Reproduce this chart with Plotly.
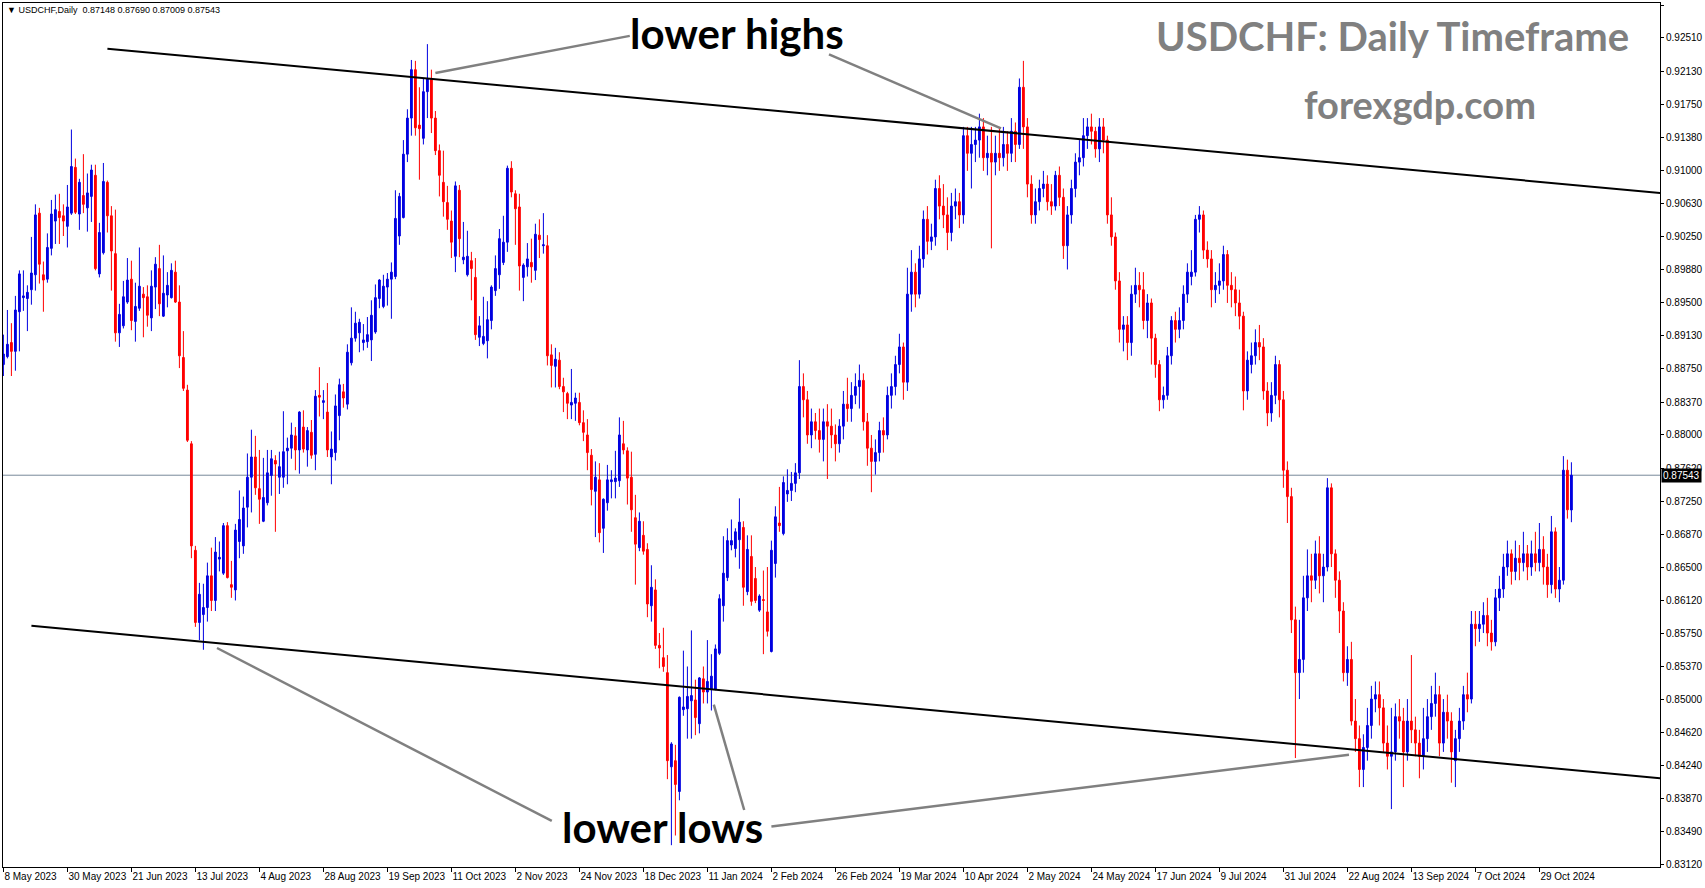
import pandas as pd
import plotly.graph_objects as go

# ---------------- data (USDCHF daily, one line per trading week) ----------------
opens = [
    0.8880, 0.8889, 0.8905, 0.8895, 0.8940,
    0.8956, 0.8955, 0.8965, 0.8982, 0.9052,
    0.8982, 0.8977, 0.9012, 0.9043, 0.9054,
    0.9049, 0.9037, 0.9052, 0.9104, 0.9051,
    0.9072, 0.9058, 0.9071, 0.9095, 0.8983,
    0.9007, 0.9087, 0.9049, 0.9006, 0.8916,
    0.8924, 0.8951, 0.8977, 0.8929, 0.8944,
    0.8960, 0.8957, 0.8933, 0.8968, 0.8989,
    0.8935, 0.8959, 0.8956, 0.8985, 0.8951,
    0.8888, 0.8851, 0.8790, 0.8669, 0.8587,
    0.8596, 0.8604, 0.8640, 0.8612, 0.8659,
    0.8643, 0.8697, 0.8630, 0.8624, 0.8679,
    0.8674, 0.8718, 0.8752, 0.8775, 0.8739,
    0.8702, 0.8723, 0.8754, 0.8771, 0.8752,
    0.8752, 0.8782, 0.8785, 0.8799, 0.8783,
    0.8809, 0.8783, 0.8803, 0.8778, 0.8845,
    0.8837, 0.8826, 0.8775, 0.8780, 0.8822,
    0.8849, 0.8835, 0.8882, 0.8910, 0.8916,
    0.8905, 0.8906, 0.8908, 0.8917, 0.8955,
    0.8946, 0.8968, 0.8977, 0.8980, 0.9026,
    0.9047, 0.9119, 0.9160, 0.9215, 0.9152,
    0.9137, 0.9190, 0.9205, 0.9160, 0.9123,
    0.9087, 0.9064, 0.9043, 0.9003, 0.9078,
    0.8999, 0.8982, 0.8998, 0.8979, 0.8911,
    0.8904, 0.8907, 0.8930, 0.8964, 0.8982,
    0.8996, 0.9019, 0.9103, 0.9074, 0.9059,
    0.8979, 0.8991, 0.8996, 0.8987, 0.9027,
    0.9015, 0.9015, 0.8891, 0.8878, 0.8885,
    0.8855, 0.8847, 0.8834, 0.8836, 0.8837,
    0.8814, 0.8800, 0.8777, 0.8736, 0.8749,
    0.8694, 0.8723, 0.8747, 0.8747, 0.8748,
    0.8790, 0.8782, 0.8752, 0.8706, 0.8672,
    0.8686, 0.8670, 0.8606, 0.8624, 0.8561,
    0.8547, 0.8530, 0.8423, 0.8430,
    0.8395, 0.8488, 0.8489, 0.8498,
    0.8499, 0.8472, 0.8523, 0.8508, 0.8511,
    0.8511, 0.8552, 0.8606, 0.8638, 0.8675,
    0.8671, 0.8681, 0.8695, 0.8622, 0.8662,
    0.8637, 0.8601, 0.8613, 0.8599, 0.8554,
    0.8654, 0.8700, 0.8688, 0.8733, 0.8737,
    0.8745, 0.8757, 0.8855, 0.8840, 0.8800,
    0.8815, 0.8805, 0.8795, 0.8815, 0.8810,
    0.8800, 0.8790, 0.8810, 0.8835, 0.8830,
    0.8845, 0.8855, 0.8862, 0.8815, 0.8785,
    0.8770, 0.8780, 0.8805, 0.8800, 0.8845,
    0.8855, 0.8880, 0.8900, 0.8860, 0.8960,
    0.8985, 0.8960, 0.9000, 0.9045, 0.9020,
    0.9025, 0.9080, 0.9060, 0.9050, 0.9030,
    0.9060, 0.9065, 0.9050, 0.9140, 0.9120,
    0.9130, 0.9135, 0.9150, 0.9115, 0.9120,
    0.9110, 0.9120, 0.9115, 0.9130, 0.9120,
    0.9145, 0.9130, 0.9195, 0.9150, 0.9085,
    0.9050, 0.9065, 0.9080, 0.9085, 0.9065,
    0.9060, 0.9095, 0.9070, 0.9015, 0.9050,
    0.9080, 0.9110, 0.9115, 0.9140, 0.9150,
    0.9145, 0.9125, 0.9150, 0.9135, 0.9050,
    0.9025, 0.8975, 0.8920, 0.8925, 0.8905,
    0.8960, 0.8970, 0.8965, 0.8930, 0.8950,
    0.8910, 0.8880, 0.8840, 0.8845, 0.8890,
    0.8930, 0.8920, 0.8930, 0.8960, 0.8980,
    0.8985, 0.9045, 0.9050, 0.9010, 0.9000,
    0.8965, 0.8970, 0.8975, 0.9005, 0.8970,
    0.8965, 0.8950, 0.8935, 0.8850, 0.8880,
    0.8890, 0.8905, 0.8900, 0.8850, 0.8825,
    0.8845, 0.8880, 0.8840, 0.8760, 0.8730,
    0.8590, 0.8530, 0.8545, 0.8615, 0.8640,
    0.8635, 0.8665, 0.8640, 0.8650, 0.8740,
    0.8665, 0.8635, 0.8600, 0.8530, 0.8545,
    0.8475, 0.8455, 0.8420, 0.8445, 0.8470,
    0.8500, 0.8505, 0.8490, 0.8450, 0.8435,
    0.8440, 0.8480, 0.8475, 0.8440, 0.8475,
    0.8465, 0.8450, 0.8435, 0.8455, 0.8480,
    0.8495, 0.8505, 0.8450, 0.8485, 0.8475,
    0.8430, 0.8455, 0.8475, 0.8505, 0.8500,
    0.8585, 0.8580, 0.8585, 0.8595, 0.8575,
    0.8565, 0.8615, 0.8625, 0.8650, 0.8665,
    0.8645, 0.8660, 0.8655, 0.8665, 0.8650,
    0.8665, 0.8655, 0.8670, 0.8650, 0.8630,
    0.8690, 0.8625, 0.8635, 0.8760, 0.87148,
]
highs = [
    0.8914, 0.8942, 0.8927, 0.8958, 0.8987,
    0.8987, 0.8970, 0.9025, 0.9062, 0.9058,
    0.8997, 0.9029, 0.9067, 0.9073, 0.9074,
    0.9062, 0.9084, 0.9147, 0.9114, 0.9091,
    0.9119, 0.9097, 0.9107, 0.9107, 0.9041,
    0.9109, 0.9089, 0.9060, 0.9056, 0.8949,
    0.8975, 0.9001, 0.8998, 0.8973, 0.9013,
    0.8968, 0.8970, 0.8987, 0.9002, 0.9016,
    0.9004, 0.8985, 0.8995, 0.8998, 0.8970,
    0.8918, 0.8857, 0.8793, 0.8674, 0.8632,
    0.8631, 0.8655, 0.8672, 0.8684, 0.8679,
    0.8700, 0.8701, 0.8657, 0.8699, 0.8737,
    0.8730, 0.8779, 0.8806, 0.8799, 0.8783,
    0.8774, 0.8783, 0.8783, 0.8777, 0.8781,
    0.8827, 0.8797, 0.8814, 0.8809, 0.8827,
    0.8828, 0.8809, 0.8817, 0.8851, 0.8877,
    0.8851, 0.8859, 0.8804, 0.8846, 0.8864,
    0.8858, 0.8903, 0.8945, 0.8940, 0.8932,
    0.8926, 0.8934, 0.8953, 0.8971, 0.8977,
    0.8982, 0.8984, 0.8996, 0.9078, 0.9075,
    0.9135, 0.9170, 0.9226, 0.9225, 0.9195,
    0.9205, 0.9244, 0.9215, 0.9168, 0.9130,
    0.9123, 0.9083, 0.9055, 0.9088, 0.9084,
    0.9042, 0.9032, 0.9008, 0.9001, 0.8935,
    0.8957, 0.8952, 0.8970, 0.9004, 0.9034,
    0.9049, 0.9106, 0.9111, 0.9078, 0.9074,
    0.8995, 0.9018, 0.9023, 0.9040, 0.9045,
    0.9052, 0.9027, 0.8903, 0.8899, 0.8894,
    0.8865, 0.8849, 0.8875, 0.8848, 0.8848,
    0.8828, 0.8818, 0.8784, 0.8770, 0.8768,
    0.8728, 0.8766, 0.8760, 0.8782, 0.8820,
    0.8816, 0.8786, 0.8781, 0.8732, 0.8712,
    0.8702, 0.8677, 0.8652, 0.8636, 0.8575,
    0.8581, 0.8550, 0.8451, 0.8448,
    0.8503, 0.8555, 0.8537, 0.8578,
    0.8522, 0.8525, 0.8537, 0.8567, 0.8551,
    0.8562, 0.8619, 0.8685, 0.8694, 0.8704,
    0.8694, 0.8728, 0.8702, 0.8686, 0.8686,
    0.8650, 0.8619, 0.8646, 0.8650, 0.8680,
    0.8719, 0.8741, 0.8753, 0.8761, 0.8758,
    0.8768, 0.8885, 0.8870, 0.8850, 0.8830,
    0.8825, 0.8830, 0.8830, 0.8835, 0.8830,
    0.8812, 0.8818, 0.8850, 0.8865, 0.8860,
    0.8870, 0.8880, 0.8870, 0.8825, 0.8800,
    0.8795, 0.8815, 0.8820, 0.8855, 0.8870,
    0.8890, 0.8915, 0.8905, 0.8990, 0.9010,
    0.8995, 0.9015, 0.9055, 0.9060, 0.9040,
    0.9090, 0.9095, 0.9085, 0.9070, 0.9075,
    0.9080, 0.9075, 0.9150, 0.9150, 0.9150,
    0.9150, 0.9165, 0.9160, 0.9140, 0.9150,
    0.9140, 0.9150, 0.9150, 0.9145, 0.9160,
    0.9155, 0.9205, 0.9225, 0.9160, 0.9095,
    0.9080, 0.9090, 0.9100, 0.9095, 0.9085,
    0.9100, 0.9105, 0.9080, 0.9060, 0.9090,
    0.9120, 0.9135, 0.9160, 0.9160, 0.9165,
    0.9150, 0.9160, 0.9160, 0.9140, 0.9070,
    0.9030, 0.8985, 0.8935, 0.8935, 0.8970,
    0.8990, 0.8985, 0.8985, 0.8960, 0.8955,
    0.8915, 0.8885, 0.8855, 0.8900, 0.8935,
    0.8940, 0.8945, 0.8970, 0.8995, 0.9010,
    0.9050, 0.9060, 0.9055, 0.9020, 0.9010,
    0.8985, 0.8995, 0.9015, 0.9010, 0.8985,
    0.8980, 0.8965, 0.8940, 0.8895, 0.8905,
    0.8920, 0.8925, 0.8910, 0.8860, 0.8860,
    0.8890, 0.8885, 0.8850, 0.8770, 0.8740,
    0.8605, 0.8590, 0.8640, 0.8670, 0.8665,
    0.8680, 0.8685, 0.8665, 0.8751, 0.8745,
    0.8670, 0.8645, 0.8610, 0.8560, 0.8565,
    0.8500, 0.8470, 0.8460, 0.8490, 0.8515,
    0.8520, 0.8520, 0.8500, 0.8470, 0.8490,
    0.8495, 0.8500, 0.8490, 0.8500, 0.8550,
    0.8480, 0.8465, 0.8490, 0.8500, 0.8515,
    0.8530, 0.8515, 0.8500, 0.8505, 0.8485,
    0.8465, 0.8490, 0.8515, 0.8530, 0.8600,
    0.8600, 0.8600, 0.8610, 0.8615, 0.8590,
    0.8625, 0.8640, 0.8665, 0.8680, 0.8670,
    0.8680, 0.8675, 0.8690, 0.8675, 0.8680,
    0.8690, 0.8700, 0.8685, 0.8665, 0.8708,
    0.8695, 0.8650, 0.8776, 0.8772, 0.87690,
]
lows = [
    0.8867, 0.8887, 0.8867, 0.8873, 0.8895,
    0.8941, 0.8918, 0.8948, 0.8964, 0.8972,
    0.8940, 0.8973, 0.9004, 0.9017, 0.9017,
    0.9026, 0.9013, 0.9050, 0.9051, 0.9033,
    0.9052, 0.9031, 0.9042, 0.8987, 0.8979,
    0.9005, 0.9030, 0.8964, 0.8906, 0.8900,
    0.8921, 0.8949, 0.8919, 0.8906, 0.8941,
    0.8911, 0.8923, 0.8918, 0.8943, 0.8935,
    0.8934, 0.8945, 0.8955, 0.8950, 0.8876,
    0.8850, 0.8792, 0.8660, 0.8582, 0.8567,
    0.8556, 0.8588, 0.8600, 0.8600, 0.8645,
    0.8641, 0.8637, 0.8615, 0.8612, 0.8660,
    0.8665, 0.8695, 0.8712, 0.8732, 0.8699,
    0.8701, 0.8720, 0.8731, 0.8690, 0.8733,
    0.8740, 0.8744, 0.8773, 0.8760, 0.8756,
    0.8780, 0.8764, 0.8773, 0.8760, 0.8821,
    0.8818, 0.8775, 0.8744, 0.8771, 0.8794,
    0.8831, 0.8829, 0.8879, 0.8906, 0.8894,
    0.8896, 0.8899, 0.8884, 0.8915, 0.8944,
    0.8944, 0.8947, 0.8932, 0.8977, 0.9016,
    0.9046, 0.9110, 0.9140, 0.9140, 0.9090,
    0.9130, 0.9160, 0.9143, 0.9118, 0.9071,
    0.9048, 0.9033, 0.9001, 0.8985, 0.9002,
    0.8994, 0.8980, 0.8953, 0.8908, 0.8901,
    0.8902, 0.8887, 0.8920, 0.8958, 0.8966,
    0.8993, 0.9008, 0.9070, 0.9016, 0.8964,
    0.8952, 0.8980, 0.8973, 0.8976, 0.9001,
    0.9006, 0.8879, 0.8854, 0.8854, 0.8852,
    0.8826, 0.8818, 0.8818, 0.8816, 0.8811,
    0.8793, 0.8760, 0.8720, 0.8684, 0.8678,
    0.8666, 0.8714, 0.8728, 0.8728, 0.8741,
    0.8778, 0.8721, 0.8690, 0.8630, 0.8668,
    0.8664, 0.8593, 0.8588, 0.8557, 0.8535,
    0.8531, 0.8409, 0.8334, 0.8345,
    0.8385, 0.8481, 0.8455, 0.8455,
    0.8459, 0.8461, 0.8495, 0.8495, 0.8487,
    0.8510, 0.8550, 0.8588, 0.8634, 0.8669,
    0.8661, 0.8648, 0.8606, 0.8618, 0.8606,
    0.8609, 0.8599, 0.8551, 0.8571, 0.8553,
    0.8638, 0.8690, 0.8686, 0.8724, 0.8725,
    0.8735, 0.8750, 0.8820, 0.8790, 0.8785,
    0.8795, 0.8780, 0.8770, 0.8750, 0.8785,
    0.8770, 0.8780, 0.8795, 0.8815, 0.8815,
    0.8835, 0.8830, 0.8805, 0.8765, 0.8735,
    0.8755, 0.8770, 0.8780, 0.8795, 0.8830,
    0.8845, 0.8870, 0.8840, 0.8850, 0.8940,
    0.8945, 0.8955, 0.8990, 0.9005, 0.9010,
    0.9015, 0.9045, 0.9035, 0.9010, 0.9020,
    0.9045, 0.9035, 0.9040, 0.9100, 0.9080,
    0.9110, 0.9115, 0.9100, 0.9095, 0.9012,
    0.9095, 0.9100, 0.9105, 0.9100, 0.9110,
    0.9110, 0.9125, 0.9125, 0.9070, 0.9040,
    0.9040, 0.9055, 0.9070, 0.9055, 0.9050,
    0.9055, 0.9060, 0.9000, 0.8988, 0.9040,
    0.9070, 0.9095, 0.9105, 0.9125, 0.9130,
    0.9115, 0.9110, 0.9120, 0.9040, 0.9015,
    0.8965, 0.8905, 0.8895, 0.8885, 0.8890,
    0.8950, 0.8945, 0.8920, 0.8910, 0.8880,
    0.8865, 0.8827, 0.8830, 0.8840, 0.8880,
    0.8905, 0.8910, 0.8920, 0.8950, 0.8970,
    0.8980, 0.9030, 0.9000, 0.8990, 0.8945,
    0.8950, 0.8960, 0.8965, 0.8950, 0.8945,
    0.8935, 0.8920, 0.8828, 0.8840, 0.8870,
    0.8880, 0.8885, 0.8840, 0.8810, 0.8815,
    0.8835, 0.8820, 0.8740, 0.8700, 0.8575,
    0.8433, 0.8500, 0.8530, 0.8600, 0.8610,
    0.8625, 0.8620, 0.8610, 0.8645, 0.8650,
    0.8615, 0.8575, 0.8520, 0.8515, 0.8470,
    0.8440, 0.8400, 0.8400, 0.8430, 0.8455,
    0.8485, 0.8470, 0.8440, 0.8420, 0.8375,
    0.8430, 0.8455, 0.8400, 0.8430, 0.8450,
    0.8435, 0.8410, 0.8420, 0.8440, 0.8465,
    0.8480, 0.8435, 0.8440, 0.8455, 0.8405,
    0.8400, 0.8440, 0.8465, 0.8485, 0.8495,
    0.8560, 0.8565, 0.8575, 0.8560, 0.8555,
    0.8560, 0.8600, 0.8615, 0.8640, 0.8630,
    0.8635, 0.8635, 0.8645, 0.8635, 0.8640,
    0.8645, 0.8645, 0.8630, 0.8615, 0.8620,
    0.8615, 0.8610, 0.8630, 0.8705, 0.87009,
]
closes = [
    0.8892, 0.8903, 0.8895, 0.8942, 0.8983,
    0.8958, 0.8962, 0.8984, 0.9050, 0.8994,
    0.8976, 0.9013, 0.9051, 0.9056, 0.9047,
    0.9043, 0.9059, 0.9105, 0.9053, 0.9087,
    0.9062, 0.9075, 0.9101, 0.8989, 0.9030,
    0.9088, 0.9049, 0.9009, 0.8916, 0.8937,
    0.8957, 0.8976, 0.8930, 0.8946, 0.8969,
    0.8956, 0.8936, 0.8969, 0.8994, 0.8949,
    0.8961, 0.8970, 0.8987, 0.8951, 0.8890,
    0.8853, 0.8794, 0.8674, 0.8587, 0.8619,
    0.8604, 0.8640, 0.8612, 0.8667, 0.8661,
    0.8697, 0.8638, 0.8627, 0.8692, 0.8704,
    0.8717, 0.8752, 0.8775, 0.8740, 0.8727,
    0.8729, 0.8757, 0.8773, 0.8767, 0.8764,
    0.8781, 0.8785, 0.8800, 0.8783, 0.8826,
    0.8784, 0.8805, 0.8777, 0.8844, 0.8843,
    0.8839, 0.8783, 0.8784, 0.8833, 0.8857,
    0.8842, 0.8894, 0.8910, 0.8927, 0.8928,
    0.8908, 0.8914, 0.8936, 0.8956, 0.8976,
    0.8969, 0.8977, 0.8985, 0.9046, 0.9071,
    0.9119, 0.9160, 0.9215, 0.9149, 0.9148,
    0.9190, 0.9205, 0.9160, 0.9123, 0.9095,
    0.9065, 0.9045, 0.9019, 0.9083, 0.9023,
    0.9002, 0.9003, 0.8989, 0.8914, 0.8924,
    0.8912, 0.8931, 0.8968, 0.8989, 0.9023,
    0.9019, 0.9103, 0.9076, 0.9057, 0.8992,
    0.8993, 0.9000, 0.8991, 0.9028, 0.9022,
    0.9016, 0.8890, 0.8879, 0.8886, 0.8855,
    0.8849, 0.8836, 0.8837, 0.8842, 0.8814,
    0.8803, 0.8780, 0.8738, 0.8752, 0.8689,
    0.8727, 0.8749, 0.8749, 0.8751, 0.8800,
    0.8783, 0.8751, 0.8715, 0.8676, 0.8702,
    0.8668, 0.8608, 0.8627, 0.8561, 0.8558,
    0.8537, 0.8430, 0.8449, 0.8403,
    0.8502, 0.8491, 0.8503, 0.8504,
    0.8479, 0.8524, 0.8508, 0.8520, 0.8526,
    0.8557, 0.8614, 0.8643, 0.8680, 0.8680,
    0.8690, 0.8701, 0.8627, 0.8670, 0.8611,
    0.8612, 0.8617, 0.8612, 0.8577, 0.8669,
    0.8707, 0.8697, 0.8746, 0.8737, 0.8745,
    0.8757, 0.8855, 0.8840, 0.8800, 0.8815,
    0.8805, 0.8795, 0.8815, 0.8810, 0.8800,
    0.8790, 0.8810, 0.8835, 0.8830, 0.8845,
    0.8855, 0.8862, 0.8815, 0.8785, 0.8770,
    0.8780, 0.8805, 0.8800, 0.8845, 0.8855,
    0.8880, 0.8900, 0.8860, 0.8960, 0.8985,
    0.8960, 0.9000, 0.9045, 0.9020, 0.9025,
    0.9080, 0.9060, 0.9050, 0.9030, 0.9060,
    0.9065, 0.9050, 0.9140, 0.9120, 0.9130,
    0.9135, 0.9150, 0.9115, 0.9120, 0.9110,
    0.9120, 0.9115, 0.9130, 0.9120, 0.9145,
    0.9130, 0.9195, 0.9150, 0.9085, 0.9050,
    0.9065, 0.9080, 0.9085, 0.9065, 0.9060,
    0.9095, 0.9070, 0.9015, 0.9050, 0.9080,
    0.9110, 0.9115, 0.9140, 0.9150, 0.9145,
    0.9125, 0.9150, 0.9135, 0.9050, 0.9025,
    0.8975, 0.8920, 0.8925, 0.8905, 0.8960,
    0.8970, 0.8965, 0.8930, 0.8950, 0.8910,
    0.8880, 0.8840, 0.8845, 0.8890, 0.8930,
    0.8920, 0.8930, 0.8960, 0.8985, 0.8985,
    0.9045, 0.9050, 0.9010, 0.9000, 0.8965,
    0.8970, 0.8975, 0.9005, 0.8970, 0.8965,
    0.8950, 0.8935, 0.8850, 0.8885, 0.8890,
    0.8905, 0.8900, 0.8850, 0.8825, 0.8845,
    0.8880, 0.8840, 0.8760, 0.8730, 0.8590,
    0.8530, 0.8545, 0.8615, 0.8640, 0.8635,
    0.8665, 0.8640, 0.8650, 0.8740, 0.8665,
    0.8635, 0.8600, 0.8530, 0.8545, 0.8475,
    0.8455, 0.8420, 0.8445, 0.8470, 0.8500,
    0.8505, 0.8490, 0.8450, 0.8435, 0.8440,
    0.8480, 0.8475, 0.8440, 0.8475, 0.8465,
    0.8450, 0.8435, 0.8455, 0.8480, 0.8495,
    0.8505, 0.8450, 0.8485, 0.8475, 0.8440,
    0.8455, 0.8475, 0.8505, 0.8500, 0.8585,
    0.8580, 0.8585, 0.8595, 0.8575, 0.8565,
    0.8615, 0.8625, 0.8650, 0.8665, 0.8645,
    0.8660, 0.8655, 0.8665, 0.8650, 0.8665,
    0.8655, 0.8670, 0.8650, 0.8630, 0.8690,
    0.8625, 0.8635, 0.8760, 0.8715, 0.87543,
]

# trading days (weekdays, Christmas and New Year closed)
holidays = ["2023-12-25", "2024-01-01"]
dates = [d.strftime("%Y-%m-%d") for d in pd.bdate_range("2023-05-08", "2024-11-08")
         if d.strftime("%Y-%m-%d") not in holidays]
assert len(dates) == len(opens) == len(highs) == len(lows) == len(closes)

tick_dates = ["2023-05-08", "2023-05-30", "2023-06-21", "2023-07-13", "2023-08-04",
              "2023-08-28", "2023-09-19", "2023-10-11", "2023-11-02", "2023-11-24",
              "2023-12-18", "2024-01-11", "2024-02-02", "2024-02-26", "2024-03-19",
              "2024-04-10", "2024-05-02", "2024-05-24", "2024-06-17", "2024-07-09",
              "2024-07-31", "2024-08-22", "2024-09-13", "2024-10-07", "2024-10-29"]
tick_labels = ["8 May 2023", "30 May 2023", "21 Jun 2023", "13 Jul 2023", "4 Aug 2023",
               "28 Aug 2023", "19 Sep 2023", "11 Oct 2023", "2 Nov 2023", "24 Nov 2023",
               "18 Dec 2023", "11 Jan 2024", "2 Feb 2024", "26 Feb 2024", "19 Mar 2024",
               "10 Apr 2024", "2 May 2024", "24 May 2024", "17 Jun 2024", "9 Jul 2024",
               "31 Jul 2024", "22 Aug 2024", "13 Sep 2024", "7 Oct 2024", "29 Oct 2024"]
price_ticks = [0.83120, 0.83490, 0.83870, 0.84240, 0.84620, 0.85000, 0.85370, 0.85750,
               0.86120, 0.86500, 0.86870, 0.87250, 0.87620, 0.88000, 0.88370, 0.88750,
               0.89130, 0.89500, 0.89880, 0.90250, 0.90630, 0.91000, 0.91380, 0.91750,
               0.92130, 0.92510, 0.92880]

symbol = "USDCHF"
timeframe = "Daily"
last_price = closes[-1]

# trend lines: (bar index, price) end points
upper_line = [(26.0, 0.92388), (414.2, 0.90748)]
lower_line = [(7.0, 0.85833), (414.2, 0.84100)]
# annotation pointer lines: (bar, price) -> (bar, price)
pointers = [
    ((156.6, 0.92534), (108.0, 0.92113)),
    ((206.4, 0.92323), (249.4, 0.91484)),
    ((137.1, 0.83615), (53.4, 0.85580)),
    ((185.2, 0.83740), (177.6, 0.84937)),
    ((192.0, 0.83553), (336.4, 0.84368)),
]

# ---------------- figure ----------------
x = list(range(len(dates)))
BLUE = "#0000E0"
RED = "#FF0000"
AXIS_FONT = dict(family="Liberation Sans, Arial, sans-serif", size=10, color="black")

fig = go.Figure()
fig.add_trace(go.Candlestick(
    x=x, open=opens, high=highs, low=lows, close=closes,
    increasing=dict(line=dict(color=BLUE, width=1), fillcolor=BLUE),
    decreasing=dict(line=dict(color=RED, width=1), fillcolor=RED),
    whiskerwidth=0, showlegend=False, hoverinfo="skip",
))

W, H = 1705, 888
ml, mr, mt, mb = 3, 45, 3, 21
plot_w = W - ml - mr
plot_h = H - mt - mb
px_per_bar = 4.0
x0 = -0.1
x1 = x0 + plot_w / px_per_bar
price_per_px = 0.0001136
y_top = 0.92880 + (5.4 - mt) * price_per_px
y_bot = y_top - plot_h * price_per_px

shapes = []
for (a, b) in [upper_line, lower_line]:
    shapes.append(dict(type="line", xref="x", yref="y", x0=a[0], y0=a[1], x1=b[0], y1=b[1],
                       line=dict(color="black", width=2)))
for (a, b) in pointers:
    shapes.append(dict(type="line", xref="x", yref="y", x0=a[0], y0=a[1], x1=b[0], y1=b[1],
                       line=dict(color="#808080", width=2.5)))
shapes.append(dict(type="line", xref="paper", yref="y", x0=0, x1=1, y0=last_price, y1=last_price,
                   line=dict(color="#778899", width=1), layer="below"))


def px(xpix):
    return (xpix - ml) / plot_w


def py(ypix):
    return 1 - (ypix - mt) / plot_h


annotations = [
    dict(xref="paper", yref="paper", x=px(5), y=py(10), xanchor="left", yanchor="middle",
         text=f"\u25bc {symbol},{timeframe} \u00a0{opens[-1]:.5f} {highs[-1]:.5f} {lows[-1]:.5f} {closes[-1]:.5f}",
         showarrow=False, font=dict(family="Liberation Sans, Arial, sans-serif", size=9, color="black")),
    dict(xref="paper", yref="paper", x=px(737), y=py(33), xanchor="center", yanchor="middle",
         text="<b>lower highs</b>", showarrow=False, font=dict(family="Lato", size=42, color="black")),
    dict(xref="paper", yref="paper", x=px(662), y=py(827), xanchor="center", yanchor="middle",
         text="<b>lower lows</b>", showarrow=False, font=dict(family="Lato", size=42, color="black")),
    dict(xref="paper", yref="paper", x=px(1392), y=py(36), xanchor="center", yanchor="middle",
         text=f"<b>{symbol}: {timeframe} Timeframe</b>", showarrow=False,
         font=dict(family="Lato", size=40, color="#808080")),
    dict(xref="paper", yref="paper", x=px(1420), y=py(104), xanchor="center", yanchor="middle",
         text="<b>forexgdp.com</b>", showarrow=False, font=dict(family="Lato", size=38, color="#808080")),
    dict(xref="paper", yref="y", x=1, y=last_price, xanchor="left", yanchor="middle", xshift=1,
         text=f"{last_price:.5f}", showarrow=False, bgcolor="black", borderpad=1,
         font=dict(family="Liberation Sans, Arial, sans-serif", size=10, color="white")),
]

tick_idx = [dates.index(d) for d in tick_dates]

fig.update_layout(
    width=W, height=H,
    margin=dict(l=ml, r=mr, t=mt, b=mb, pad=0, autoexpand=False),
    paper_bgcolor="white", plot_bgcolor="white",
    boxgap=0.35,
    shapes=shapes, annotations=annotations,
    showlegend=False,
    xaxis=dict(range=[x0, x1], showgrid=False, zeroline=False, showline=True, mirror=True,
               linecolor="black", linewidth=1, ticks="outside", ticklen=4, tickcolor="black",
               tickvals=tick_idx, ticktext=tick_labels, ticklabelposition="outside right",
               tickangle=0, automargin=False, tickfont=AXIS_FONT,
               rangeslider=dict(visible=False), fixedrange=True),
    yaxis=dict(range=[y_bot, y_top], side="right", showgrid=False, zeroline=False, showline=True,
               mirror=True, linecolor="black", linewidth=1, ticks="outside", ticklen=3,
               automargin=False, tickcolor="black", tickvals=price_ticks,
               ticktext=[f"{v:.5f}" for v in price_ticks], tickfont=AXIS_FONT, fixedrange=True),
)

fig.write_html("out.html", config={"displayModeBar": False})
